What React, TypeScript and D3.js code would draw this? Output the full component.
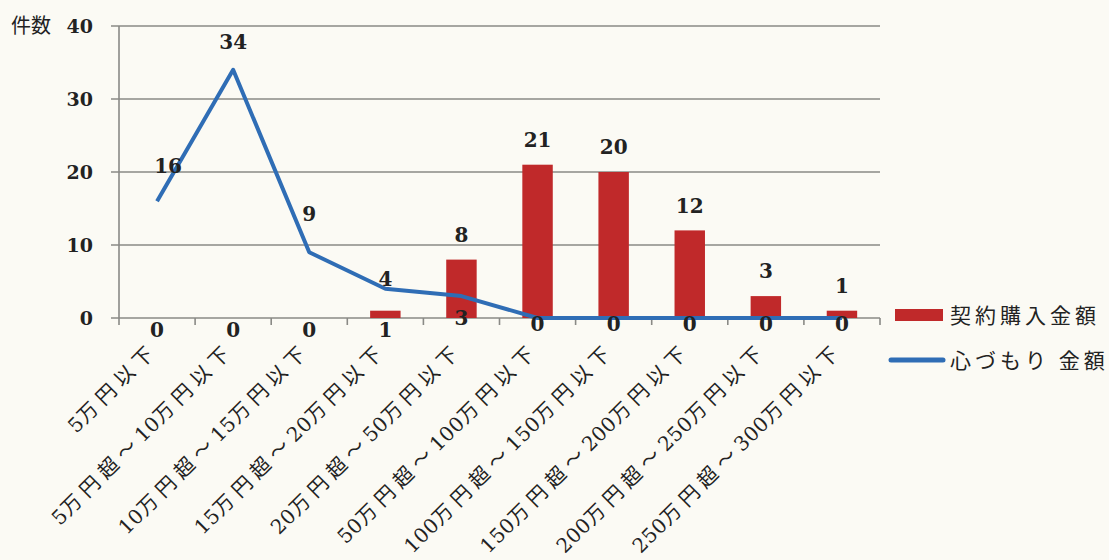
import React from "react";
import * as d3 from "d3";

const categories = [
  "5万円以下",
  "5万円超〜10万円以下",
  "10万円超〜15万円以下",
  "15万円超〜20万円以下",
  "20万円超〜50万円以下",
  "50万円超〜100万円以下",
  "100万円超〜150万円以下",
  "150万円超〜200万円以下",
  "200万円超〜250万円以下",
  "250万円超〜300万円以下",
];
const purchaseValues = [0, 0, 0, 1, 8, 21, 20, 12, 3, 1];
const estimateValues = [16, 34, 9, 4, 3, 0, 0, 0, 0, 0];
const yTicks = [0, 10, 20, 30, 40];
const seriesNames = ["契約購入金額", "心づもり 金額"];
// label placement (style): where each value label sits
const barLabelPlace = ["base", "base", "base", "base", "top", "top", "top", "top", "top", "top"];
const lineLabelShift = [-35, -28, -39, -10, 22, 6, 6, 6, 6, 6];

const W = 1109;
const H = 560;
const left = 119;
const right = 880;
const top = 26;
const bottom = 318;
const RED = "#c0292a";
const BLUE = "#2f6db5";
const NUM_FONT = "'DejaVu Serif', serif";
const CJK_FONT = "'Noto Sans CJK JP', sans-serif";

function splitRuns(s: string) {
  const runs: { t: string; digit: boolean }[] = [];
  for (const ch of s) {
    const digit = /[0-9]/.test(ch);
    const last = runs[runs.length - 1];
    if (last && last.digit === digit) last.t += ch;
    else runs.push({ t: ch, digit });
  }
  return runs;
}

export default function App() {
  const x = d3.scaleBand<string>().domain(categories).range([left, right]).padding(0);
  const y = d3.scaleLinear().domain([0, 40]).range([bottom, top]);
  const bw = x.bandwidth() * 0.4;
  const cx = (c: string) => (x(c) as number) + x.bandwidth() / 2;
  const line = d3
    .line<number>()
    .x((_, i) => cx(categories[i]))
    .y((d) => y(d));
  const boundaries = d3.range(categories.length + 1).map((i) => left + i * x.bandwidth());

  return (
    <svg width={W} height={H} style={{ display: "block", position: "absolute", left: 0, top: 0, background: "#fbfaf4" }}>
      <rect x={0} y={0} width={W} height={H} fill="#fbfaf4" />
      {/* gridlines */}
      {yTicks.map((t) => (
        <line key={t} x1={left - 8} x2={right} y1={y(t)} y2={y(t)} stroke="#8a8a86" strokeWidth={1.6} />
      ))}
      {/* y axis */}
      <line x1={left} x2={left} y1={top} y2={bottom} stroke="#8a8a86" strokeWidth={1.6} />
      {yTicks.map((t) => (
        <text key={"yl" + t} x={93} y={y(t)} dy="0.36em" textAnchor="end" fontFamily={NUM_FONT} fontWeight="bold" fontSize={19} fill="#222">
          {t}
        </text>
      ))}
      <text x={11} y={y(40)} dy="0.36em" fontFamily={CJK_FONT} fontSize={20} fill="#222">
        件数
      </text>
      {/* x ticks */}
      {boundaries.map((bx, i) => (
        <line key={"xt" + i} x1={bx} x2={bx} y1={bottom} y2={bottom + 7} stroke="#8a8a86" strokeWidth={1.6} />
      ))}
      {/* bars */}
      {purchaseValues.map((v, i) => (
        <rect key={"b" + i} x={cx(categories[i]) - bw / 2} y={y(v)} width={bw} height={bottom - y(v)} fill={RED} />
      ))}
      {/* line */}
      <path d={line(estimateValues) || ""} fill="none" stroke={BLUE} strokeWidth={4} strokeLinejoin="round" />
      {/* bar labels */}
      {purchaseValues.map((v, i) => {
        const place = barLabelPlace[i];
        const ly = place === "top" ? y(v) - 25 : bottom + 12;
        return (
          <text key={"bl" + i} x={cx(categories[i])} y={ly} dy="0.36em" textAnchor="middle" fontFamily={NUM_FONT} fontWeight="bold" fontSize={20} fill="#222">
            {v}
          </text>
        );
      })}
      {/* line labels */}
      {estimateValues.map((v, i) => (
        <text key={"ll" + i} x={cx(categories[i]) + (i === 0 ? 11 : 0)} y={y(v) + lineLabelShift[i]} dy="0.36em" textAnchor="middle" fontFamily={NUM_FONT} fontWeight="bold" fontSize={20} fill="#222">
          {v}
        </text>
      ))}
      {/* category labels */}
      {categories.map((c) => (
        <text
          key={"cl" + c}
          transform={`translate(${cx(c) + 2},${bottom + 33}) rotate(-45)`}
          textAnchor="end"
          fontSize={20}
          fill="#222"
        >
          {splitRuns(c).map((r, k) => (
            <tspan key={k} fontFamily={r.digit ? NUM_FONT : CJK_FONT} letterSpacing={r.digit ? 0.5 : 6}>
              {r.t}
            </tspan>
          ))}
        </text>
      ))}
      {/* legend */}
      <rect x={895} y={309} width={48} height={12} fill={RED} />
      <text x={950} y={315} dy="0.36em" fontFamily={CJK_FONT} fontSize={21} letterSpacing={4} fill="#222">
        {seriesNames[0]}
      </text>
      <line x1={891} x2={943} y1={360} y2={360} stroke={BLUE} strokeWidth={5} strokeLinecap="round" />
      <text x={950} y={360} dy="0.36em" fontFamily={CJK_FONT} fontSize={21} letterSpacing={4} fill="#222">
        {seriesNames[1]}
      </text>
    </svg>
  );
}
